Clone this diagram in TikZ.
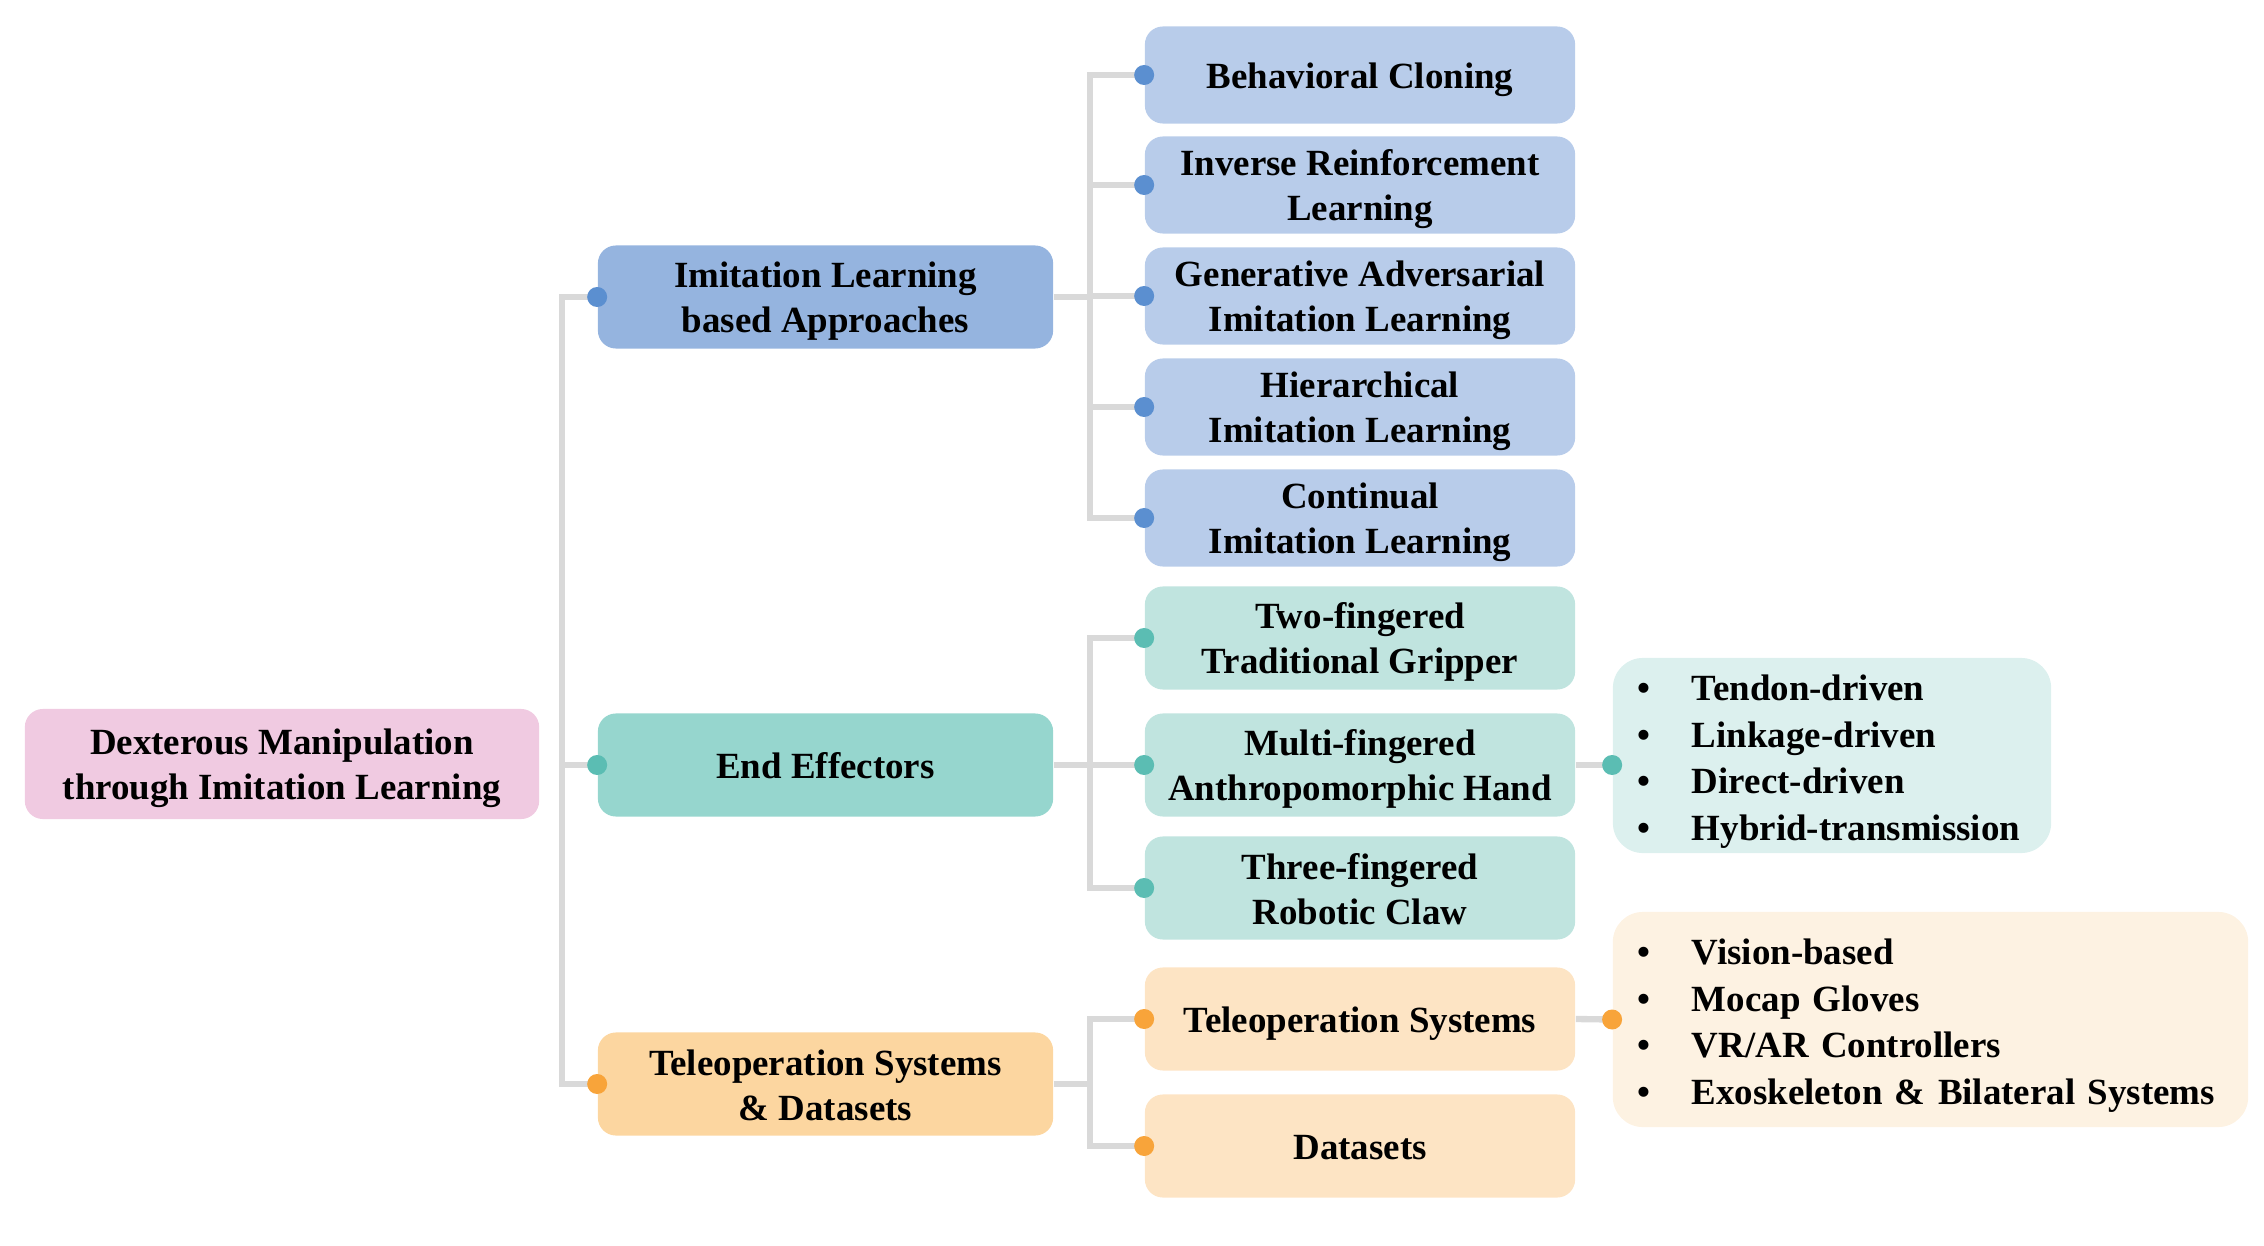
\documentclass[tikz,border=0pt]{standalone}
\usepackage{fontspec}
\setmainfont{Liberation Serif}
\definecolor{rootpink}{RGB}{240,202,225}
\definecolor{ilblue}{RGB}{149,180,223}
\definecolor{ilbluelt}{RGB}{184,204,234}
\definecolor{ildot}{RGB}{91,143,208}
\definecolor{eeteal}{RGB}{150,214,206}
\definecolor{eeteallt}{RGB}{192,228,223}
\definecolor{eetealxl}{RGB}{220,240,238}
\definecolor{eedot}{RGB}{91,189,179}
\definecolor{toorange}{RGB}{252,214,160}
\definecolor{toorangelt}{RGB}{253,228,196}
\definecolor{toorangexl}{RGB}{253,242,226}
\definecolor{todot}{RGB}{248,164,58}
\definecolor{linkgray}{RGB}{217,217,217}
\usepackage{tikz}
\usetikzlibrary{positioning, calc}
\newcommand{\bulletline}[1]{\makebox[0.54cm][l]{\textbullet}#1}

\begin{document}
\begin{tikzpicture}[x=0.01cm, y=-0.01cm,
    box/.style={rounded corners=0.18cm, align=center, inner sep=0pt,
                font=\fontsize{10.5}{12.8}\selectfont\bfseries,
                execute at end node={\rule[-2pt]{0pt}{2pt}}},
    oneline/.style={execute at begin node={\rule{0pt}{9.8pt}}},
    twoline/.style={execute at begin node={\rule{0pt}{22.6pt}}},
    lvlone/.style={box, minimum width=4.55cm, minimum height=1.03cm},
    lvltwo/.style={box, minimum width=4.30cm, minimum height=0.97cm},
    listbox/.style={box, rounded corners=0.3cm, align=left, inner xsep=0.25cm,
                    font=\fontsize{10.5}{13.3}\selectfont\bfseries,
                    execute at begin node={\rule{0pt}{10.8pt}}},
    link/.style={linkgray, line width=1.8pt}
  ]
    \useasboundingbox (0,0) rectangle (2264,1246);

    % root
    \node[box, twoline, fill=rootpink, minimum width=5.14cm, minimum height=1.10cm]
      (root) at (282,764) {Dexterous Manipulation\\through Imitation Learning};

    % first level
    \node[lvlone, twoline, fill=ilblue] (il) at (825.5,297) {Imitation Learning\\based Approaches};
    \node[lvlone, oneline, fill=eeteal] (ee) at (825.5,765) {End Effectors};
    \node[lvlone, twoline, fill=toorange] (to) at (825.5,1084) {Teleoperation Systems\\\& Datasets};

    % second level
    \node[lvltwo, oneline, fill=ilbluelt] (bc) at (1360,75) {Behavioral Cloning};
    \node[lvltwo, twoline, fill=ilbluelt] (irl) at (1360,185) {Inverse Reinforcement\\Learning};
    \node[lvltwo, twoline, fill=ilbluelt] (gail) at (1360,296) {Generative Adversarial\\Imitation Learning};
    \node[lvltwo, twoline, fill=ilbluelt] (hil) at (1360,407) {Hierarchical\\Imitation Learning};
    \node[lvltwo, twoline, fill=ilbluelt] (cil) at (1360,518) {Continual\\Imitation Learning};
    \node[lvltwo, twoline, fill=eeteallt, minimum height=1.03cm] (two) at (1360,638) {Two-fingered\\Traditional Gripper};
    \node[lvltwo, twoline, fill=eeteallt, minimum height=1.03cm] (multi) at (1360,765) {Multi-fingered\\Anthropomorphic Hand};
    \node[lvltwo, twoline, fill=eeteallt, minimum height=1.03cm] (three) at (1360,888) {Three-fingered\\Robotic Claw};
    \node[lvltwo, oneline, fill=toorangelt, minimum height=1.03cm] (tsys) at (1360,1019) {Teleoperation Systems};
    \node[lvltwo, oneline, fill=toorangelt, minimum height=1.03cm] (data) at (1360,1146) {Datasets};

    % third level
    \node[listbox, fill=eetealxl, minimum width=4.38cm, minimum height=1.95cm,
          text width=3.88cm] (hands) at (1832,755.5) {
      \bulletline{Tendon-driven}\\
      \bulletline{Linkage-driven}\\
      \bulletline{Direct-driven}\\
      \bulletline{Hybrid-transmission}
    };
    \node[listbox, fill=toorangexl, minimum width=6.35cm, minimum height=2.15cm,
          text width=5.85cm] (devices) at (1930.5,1019.5) {
      \bulletline{Vision-based}\\
      \bulletline{Mocap Gloves}\\
      \bulletline{VR/AR Controllers}\\
      \bulletline{Exoskeleton \& Bilateral Systems}
    };

    % connectors
    \coordinate (spine1) at (562,0);
    \coordinate (spine2) at (1090,0);
    \draw[link] ($(root.south east)+(0,-4)$) -- ($(root.south east)+(0,-4)$ -| spine1);
    \draw[link] (il.west) -- (il.west -| spine1) |- (to.west);
    \draw[link] (ee.west) -- (ee.west -| spine1);

    \draw[link] (il.east) -- (il.east -| spine2);
    \draw[link] (bc.west) -- (bc.west -| spine2) |- (cil.west);
    \foreach \n in {irl, gail, hil}
      \draw[link] (\n.west) -- (\n.west -| spine2);

    \draw[link] (ee.east) -- (ee.east -| spine2);
    \draw[link] (two.west) -- (two.west -| spine2) |- (three.west);
    \draw[link] (multi.west) -- (multi.west -| spine2);

    \draw[link] (to.east) -- (to.east -| spine2);
    \draw[link] (tsys.west) -- (tsys.west -| spine2) |- (data.west);

    \draw[link] (multi.east) -- (multi.east -| hands.west);
    \draw[link] (tsys.east) -- (devices.west);

    % end dots
    \foreach \n in {il, bc, irl, gail, hil, cil}
      \fill[ildot] (\n.west) circle (0.1cm);
    \foreach \n in {ee, two, multi, three}
      \fill[eedot] (\n.west) circle (0.1cm);
    \fill[eedot] (multi.east -| hands.west) circle (0.1cm);
    \foreach \n in {to, tsys, data, devices}
      \fill[todot] (\n.west) circle (0.1cm);
\end{tikzpicture}
\end{document}
